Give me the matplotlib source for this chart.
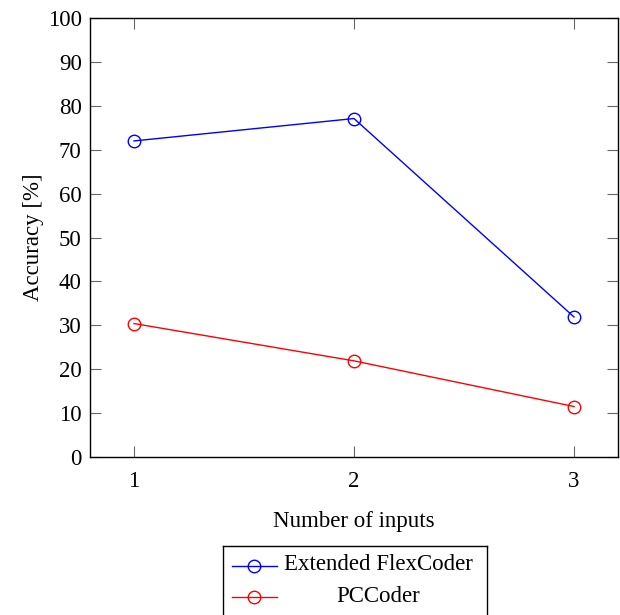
import matplotlib.pyplot as plt
from matplotlib.lines import Line2D

plt.rcParams['font.family'] = ['Liberation Serif', 'DejaVu Serif']

# data
inputs = [1, 2, 3]
flexcoder = [72.0, 77.1, 31.9]
pccoder = [30.4, 21.9, 11.5]
series_names = ['Extended FlexCoder', 'PCCoder']
series_colors = ['blue', 'red']

fig = plt.figure(figsize=(6.2, 6.15), dpi=100)
ax = fig.add_axes([90 / 620, 1 - 457 / 615, 528 / 620, 439 / 615])

for vals, col in zip([flexcoder, pccoder], series_colors):
    ax.plot(inputs, vals, color=col, lw=1.0, marker='o', ms=9,
            mfc='none', mec=col, mew=1.0)

ax.set_xlim(0.8, 3.2)
ax.set_ylim(0, 100)
ax.set_xticks(inputs)
ax.set_yticks(range(0, 101, 10))
ax.tick_params(direction='in', length=8, width=0.8, color='#666666',
               top=True, right=True, labelsize=16.5)
ax.tick_params(axis='x', pad=10)
ax.tick_params(axis='y', pad=6)
for sp in ax.spines.values():
    sp.set_linewidth(1.0)
ax.set_xlabel('Number of inputs', fontsize=16.5, labelpad=14)
ax.set_ylabel('Accuracy [%]', fontsize=16.5, labelpad=3)

# legend box below the plot, entries centred like pgfplots
lax = fig.add_axes([223 / 620, -0.03, 264 / 620, 69 / 615 + 0.03])
lax.set_xlim(0, 264)
lax.set_ylim(615 - 546 + 0.03 * 615, 0)
lax.set_xticks([])
lax.set_yticks([])
for sp in lax.spines.values():
    sp.set_linewidth(1.0)
for i, (name, col) in enumerate(zip(series_names, series_colors)):
    y = 20 + 31 * i
    lax.add_line(Line2D([9, 54], [y, y], color=col, lw=1.0))
    lax.plot([31], [y], marker='o', ms=9, mfc='none', mec=col, mew=1.0)
    lax.text(155, y - 1, name, ha='center', va='center', fontsize=16.5)

fig.savefig('out.png', dpi=100)
